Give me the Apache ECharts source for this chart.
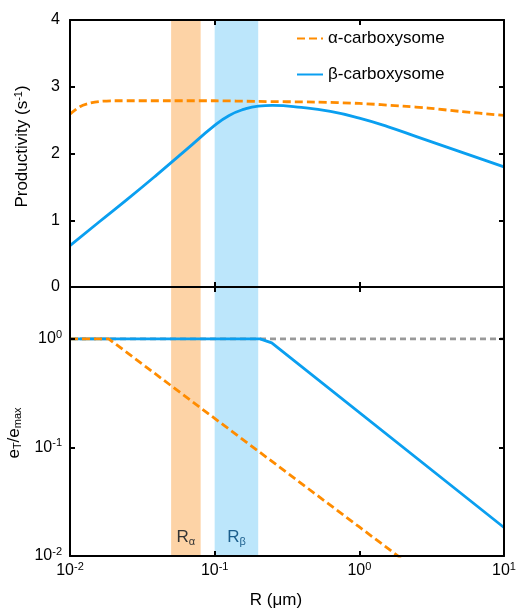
<!DOCTYPE html>
<html>
<head>
<meta charset="utf-8">
<script src="https://cdn.jsdelivr.net/npm/echarts@6/dist/echarts.min.js"></script>
<style>
  html, body { margin: 0; padding: 0; background: #fff; }
  #chart { width: 517px; height: 611px; }
</style>
</head>
<body>
<div id="chart"></div>
<script>
// Productivity (s^-1) against shell radius R (µm)
const alphaProductivity = [[0.01, 2.59], [0.0117, 2.70], [0.0135, 2.75], [0.016, 2.78], [0.02, 2.79], [0.05, 2.79], [0.1, 2.79], [0.2, 2.78], [0.5, 2.77], [1, 2.75], [2, 2.71], [3, 2.68], [5, 2.63], [10, 2.57]];
const betaProductivity = [[0.01, 0.62], [0.0158, 0.97], [0.0251, 1.32], [0.0398, 1.68], [0.0631, 2.05], [0.1, 2.42], [0.126, 2.57], [0.158, 2.66], [0.2, 2.71], [0.251, 2.72], [0.398, 2.69], [0.631, 2.63], [1, 2.53], [1.585, 2.40], [2.51, 2.25], [3.98, 2.10], [6.31, 1.95], [10, 1.80]];

// Enzyme ratio e_T / e_max against R
const alphaRatio = [[0.01, 1], [0.0185, 1], [0.05, 0.37], [0.1, 0.185], [1, 0.0185], [2, 0.00925]];
const betaRatio = [[0.01, 1], [0.206, 1], [0.248, 0.918], [10, 0.0183]];
const maxRatio = [[0.01, 1], [10, 1]];

// Observed radius ranges
const alphaRange = [0.05, 0.08];
const betaRange = [0.1, 0.2];

// Tick labels
const xTickExponents = [-2, -1, 0, 1];
const yTickExponents = [-2, -1, 0];
const yTopTicks = [0, 1, 2, 3, 4];

const ORANGE = '#FF8C00';
const BLUE = '#0A9FF0';
const FONT = 'Liberation Sans, Arial, sans-serif';
const LW = 2.8;

const supRich = {
  sup: { fontSize: 11, fontFamily: FONT, color: '#000', verticalAlign: 'bottom', padding: [0, 0, 8, 0] }
};
const subRich = (color) => ({
  sub: { fontSize: 11, fontFamily: FONT, color: color, verticalAlign: 'top', padding: [8, 0, 0, 0] }
});

function powLabel(exps) {
  return function (v) {
    const l = Math.log10(v);
    const e = Math.round(l);
    if (Math.abs(l - e) > 1e-6 || exps.indexOf(e) < 0) return '';
    return '10{sup|' + e + '}';
  };
}

const line = { show: true, onZero: false, lineStyle: { color: '#000', width: 2 } };
const tick = { show: true, inside: true, length: 5, lineStyle: { color: '#000', width: 2 } };

function xAxisDef(grid, pos, labels) {
  return {
    type: 'log', logBase: 10, min: 0.01, max: 10, gridIndex: grid, position: pos, z: 10,
    axisLine: line, axisTick: tick, splitLine: { show: false }, minorTick: { show: false },
    axisLabel: labels ? {
      show: true, margin: 5, color: '#000', fontSize: 16, fontFamily: FONT,
      formatter: powLabel(xTickExponents), rich: supRich
    } : { show: false }
  };
}

const chart = echarts.init(document.getElementById('chart'));

chart.setOption({
  animation: false,
  backgroundColor: '#fff',
  grid: [
    { left: 70, top: 20, width: 434, height: 267, containLabel: false, outerBoundsMode: 'none' },
    { left: 70, top: 287, width: 434, height: 269, containLabel: false, outerBoundsMode: 'none' }
  ],
  legend: {
    orient: 'vertical', left: 291, top: 25, itemWidth: 26, itemHeight: 14, itemGap: 19,
    data: ['α-carboxysome', 'β-carboxysome'],
    itemStyle: { opacity: 0 },
    textStyle: { fontSize: 17, fontFamily: FONT, color: '#000' }
  },
  xAxis: [
    xAxisDef(0, 'bottom', false),
    xAxisDef(0, 'top', false),
    Object.assign(xAxisDef(1, 'bottom', true), {
      name: 'R (μm)', nameLocation: 'middle', nameGap: 36,
      nameTextStyle: { fontSize: 17, fontFamily: FONT, color: '#000', padding: [0, 22, 0, 0] }
    }),
    xAxisDef(1, 'top', false)
  ],
  yAxis: [
    {
      type: 'value', gridIndex: 0, position: 'left', min: yTopTicks[0], max: yTopTicks[yTopTicks.length - 1], interval: 1, z: 10,
      axisLine: line, axisTick: tick, splitLine: { show: false },
      axisLabel: { margin: 10, color: '#000', fontSize: 16, fontFamily: FONT },
      name: 'Productivity (s{sup|-1})', nameLocation: 'middle', nameGap: 38,
      nameTextStyle: {
        fontSize: 17, fontFamily: FONT, color: '#000', padding: [0, 0, 0, 14],
        rich: { sup: { fontSize: 11, fontFamily: FONT, color: '#000', verticalAlign: 'bottom', padding: [0, 0, 8, 0] } }
      }
    },
    {
      type: 'value', gridIndex: 0, position: 'right', min: 0, max: 4, interval: 1, z: 10,
      axisLine: line, axisTick: tick, splitLine: { show: false }, axisLabel: { show: false }
    },
    {
      type: 'log', logBase: 10, gridIndex: 1, position: 'left', min: 0.01, max: 3, z: 10,
      axisLine: line, axisTick: tick, splitLine: { show: false }, minorTick: { show: false },
      axisLabel: {
        margin: 8, color: '#000', fontSize: 16, fontFamily: FONT,
        formatter: powLabel(yTickExponents), rich: supRich
      },
      name: 'e{sub|T}/e{sub|max}', nameLocation: 'middle', nameGap: 38,
      nameTextStyle: {
        fontSize: 17, fontFamily: FONT, color: '#000', padding: [0, 23, 0, 0],
        rich: subRich('#000')
      }
    },
    {
      type: 'log', logBase: 10, gridIndex: 1, position: 'right', min: 0.01, max: 3, z: 10,
      axisLine: line, axisTick: tick, splitLine: { show: false }, minorTick: { show: false },
      axisLabel: { show: false }
    }
  ],
  series: [
    {
      // shaded radius ranges, upper panel
      type: 'line', xAxisIndex: 0, yAxisIndex: 0, data: [], z: 1, silent: true,
      markArea: {
        silent: true,
        data: [
          [{ xAxis: alphaRange[0], itemStyle: { color: '#FDD3A6' } }, { xAxis: alphaRange[1] }],
          [{ xAxis: betaRange[0], itemStyle: { color: '#BCE6FB' } }, { xAxis: betaRange[1] }]
        ]
      }
    },
    {
      name: 'α-carboxysome', type: 'line', xAxisIndex: 0, yAxisIndex: 0, z: 3,
      data: alphaProductivity, smooth: 0.3, showSymbol: false, symbol: 'none',
      lineStyle: { color: ORANGE, width: LW, type: [8, 4] }, itemStyle: { color: ORANGE }
    },
    {
      name: 'β-carboxysome', type: 'line', xAxisIndex: 0, yAxisIndex: 0, z: 3,
      data: betaProductivity, smooth: 0.5, showSymbol: false, symbol: 'none',
      lineStyle: { color: BLUE, width: LW }, itemStyle: { color: BLUE }
    },
    {
      // shaded radius ranges with labels, lower panel
      type: 'line', xAxisIndex: 2, yAxisIndex: 2, data: [], z: 1, silent: true,
      markArea: {
        silent: true,
        label: { show: true, position: 'insideBottom', distance: 9, fontSize: 17, fontFamily: FONT },
        data: [
          [{
            xAxis: alphaRange[0], itemStyle: { color: '#FDD3A6' },
            label: { formatter: 'R{sub|α}', color: '#333', rich: subRich('#333') }
          }, { xAxis: alphaRange[1] }],
          [{
            xAxis: betaRange[0], itemStyle: { color: '#BCE6FB' },
            label: { formatter: 'R{sub|β}', color: '#1B5E8C', rich: subRich('#1B5E8C') }
          }, { xAxis: betaRange[1] }]
        ]
      }
    },
    {
      type: 'line', xAxisIndex: 2, yAxisIndex: 2, z: 2, data: maxRatio, showSymbol: false, symbol: 'none',
      lineStyle: { color: '#999', width: LW, type: [6, 4] }
    },
    {
      name: 'β-carboxysome', type: 'line', xAxisIndex: 2, yAxisIndex: 2, z: 3,
      data: betaRatio, showSymbol: false, symbol: 'none',
      lineStyle: { color: BLUE, width: LW }, itemStyle: { color: BLUE }
    },
    {
      name: 'α-carboxysome', type: 'line', xAxisIndex: 2, yAxisIndex: 2, z: 3,
      data: alphaRatio, showSymbol: false, symbol: 'none',
      lineStyle: { color: ORANGE, width: LW, type: [8, 4] }, itemStyle: { color: ORANGE }
    }
  ]
});
</script>
</body>
</html>
